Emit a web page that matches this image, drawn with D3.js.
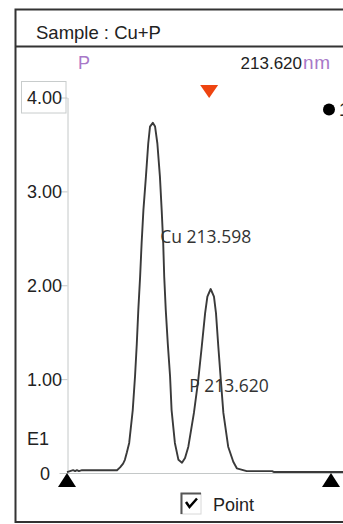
<!DOCTYPE html>
<html>
<head>
<meta charset="utf-8">
<script src="https://cdn.jsdelivr.net/npm/d3@7/dist/d3.min.js"></script>
<style>
html,body{margin:0;padding:0;background:#fff;}
svg{display:block;}
</style>
</head>
<body>
<script>
// ---- data ----
const wavelengths = [213.5640,213.5652,213.5664,213.5672,213.5679,213.5687,213.5699,213.5770,213.5837,213.5849,213.5861,213.5868,213.5876,213.5885,213.5899,213.5908,213.5915,213.5921,213.5928,213.5934,213.5941,213.5951,213.5960,213.5967,213.5978,213.5987,213.5996,213.6006,213.6013,213.6019,213.6023,213.6029,213.6037,213.6046,213.6052,213.6065,213.6079,213.6093,213.6105,213.6118,213.6140,213.6157,213.6171,213.6184,213.6193,213.6206,213.6219,213.6227,213.6236,213.6246,213.6256,213.6275,213.6295,213.6309,213.6348,213.6448,213.6456,213.6735];
const intensities = [0.01,0.02,0.03,0.02,0.03,0.02,0.03,0.03,0.03,0.06,0.10,0.14,0.22,0.32,0.67,1.03,1.38,1.74,2.09,2.45,2.80,3.16,3.51,3.69,3.73,3.69,3.51,3.16,2.80,2.45,2.09,1.74,1.38,1.03,0.67,0.32,0.14,0.11,0.16,0.28,0.64,0.99,1.35,1.70,1.88,1.96,1.88,1.70,1.35,0.99,0.64,0.28,0.12,0.05,0.02,0.02,0.01,0.01];
const yTicks = [0,1,2,3,4];
const yTickLabels = ["0","1.00","2.00","3.00","4.00"];
const peakNames = ["Cu","P"];
const peakWavelengths = [213.598,213.620];
const windowLimits = [213.564,213.668];
const selectedWavelength = 213.620;
const selectedElement = "P";
const sampleName = "Sample : Cu+P";
const unitLabel = "E1";
const legendLabel = "1";
const checkboxLabel = "Point";

// ---- layout ----
const W = 343, H = 524;
const svg = d3.select("body").append("svg").attr("width", W).attr("height", H);
const sans = "'Liberation Sans', Arial, sans-serif";
const open = "'Open Sans', sans-serif";
const purple = "#a878c8";

const x = d3.scaleLinear().domain(windowLimits).range([67, 331]);
const y = d3.scaleLinear().domain([0, 4]).range([473, 97.5]);

// frame
svg.append("rect").attr("x", 15.5).attr("y", 9.5).attr("width", 400).attr("height", 512.5)
  .attr("fill", "#fff").attr("stroke", "#333").attr("stroke-width", 2);
svg.append("line").attr("x1", 15.5).attr("x2", W).attr("y1", 46.5).attr("y2", 46.5)
  .attr("stroke", "#333").attr("stroke-width", 2);

svg.append("text").attr("x", 36).attr("y", 39).attr("font-family", sans).attr("font-size", 18.5)
  .attr("fill", "#222").text(sampleName);

// element / wavelength readout
svg.append("text").attr("x", 78).attr("y", 69).attr("font-family", sans).attr("font-size", 18)
  .attr("fill", purple).text(selectedElement);
svg.append("text").attr("x", 302).attr("y", 69).attr("font-family", sans)
  .attr("font-size", 17).attr("text-anchor", "end").attr("fill", "#222")
  .text(d3.format(".3f")(selectedWavelength));
svg.append("text").attr("x", 303).attr("y", 69).attr("font-family", sans).attr("font-size", 19)
  .attr("fill", purple).attr("letter-spacing", 0.8).text("nm");

// 4.00 box
svg.append("rect").attr("x", 21.5).attr("y", 81.5).attr("width", 44.5).attr("height", 31.5)
  .attr("fill", "none").attr("stroke", "#c8cccc").attr("stroke-width", 1);

// y axis
const yAxis = d3.axisLeft(y).tickValues(yTicks).tickFormat((d, i) => yTickLabels[i])
  .tickSize(8).tickSizeOuter(0).tickPadding(-2.5);
const ga = svg.append("g").attr("transform", "translate(67.5,0)").call(yAxis);
ga.select(".domain").attr("stroke", "#c4c8c8");
ga.selectAll(".tick line").attr("stroke", "#c4c8c8");
ga.selectAll(".tick text").attr("font-family", sans).attr("font-size", 18).attr("fill", "#222")
  .attr("dy", "0.36em");
ga.selectAll(".tick text").filter(d => d === 0).attr("x", -17.5);

// baseline
svg.append("line").attr("x1", 67).attr("x2", W).attr("y1", y(0) + 0.5).attr("y2", y(0) + 0.5)
  .attr("stroke", "#c4c8c8").attr("stroke-width", 1);

svg.append("text").attr("x", 27).attr("y", 445).attr("font-family", sans).attr("font-size", 18)
  .attr("fill", "#222").text(unitLabel);

// spectrum
const pts = wavelengths.map((w, i) => [w, intensities[i]]);
svg.append("path").datum(pts)
  .attr("d", d3.line().x(d => x(d[0])).y(d => y(d[1])))
  .attr("fill", "none").attr("stroke", "#3a3a3a").attr("stroke-width", 1.9)
  .attr("stroke-linejoin", "round");

// peak labels
const labelOffsets = [[7, 2.45], [-20, 0.86]];
peakNames.forEach((n, i) => {
  svg.append("text").attr("x", x(peakWavelengths[i]) + labelOffsets[i][0])
    .attr("y", y(labelOffsets[i][1]))
    .attr("font-family", open).attr("font-size", 17.5).attr("fill", "#333")
    .text(n + " " + d3.format(".3f")(peakWavelengths[i]));
});

// selected marker (red down triangle)
const sx = x(selectedWavelength);
svg.append("path").attr("d", `M${sx - 9},85 L${sx + 9},85 L${sx},98 Z`).attr("fill", "#ee4410");

// window limit markers
windowLimits.forEach(w => {
  const px = x(w);
  svg.append("path").attr("d", `M${px},473 L${px + 9},487 L${px - 9},487 Z`).attr("fill", "#000");
});

// legend dot (its label is clipped by the window edge in the reference)
svg.append("circle").attr("cx", 329).attr("cy", 109.5).attr("r", 6).attr("fill", "#000");
svg.append("text").attr("x", 339).attr("y", 116).attr("font-family", sans).attr("font-size", 18)
  .attr("fill", "#222").text(legendLabel);

// checkbox
svg.append("rect").attr("x", 181).attr("y", 493.5).attr("width", 20).attr("height", 20.5)
  .attr("fill", "#fff").attr("stroke", "#d8d8d8").attr("stroke-width", 1);
svg.append("path").attr("d", "M181.5,514 L181.5,493.5 L201,493.5").attr("fill", "none")
  .attr("stroke", "#555").attr("stroke-width", 2);
svg.append("path").attr("d", "M186,502 L189.5,507 L197,498.5").attr("fill", "none")
  .attr("stroke", "#000").attr("stroke-width", 2.5);
svg.append("text").attr("x", 213).attr("y", 511).attr("font-family", sans).attr("font-size", 18)
  .attr("fill", "#222").text(checkboxLabel);
</script>
</body>
</html>
